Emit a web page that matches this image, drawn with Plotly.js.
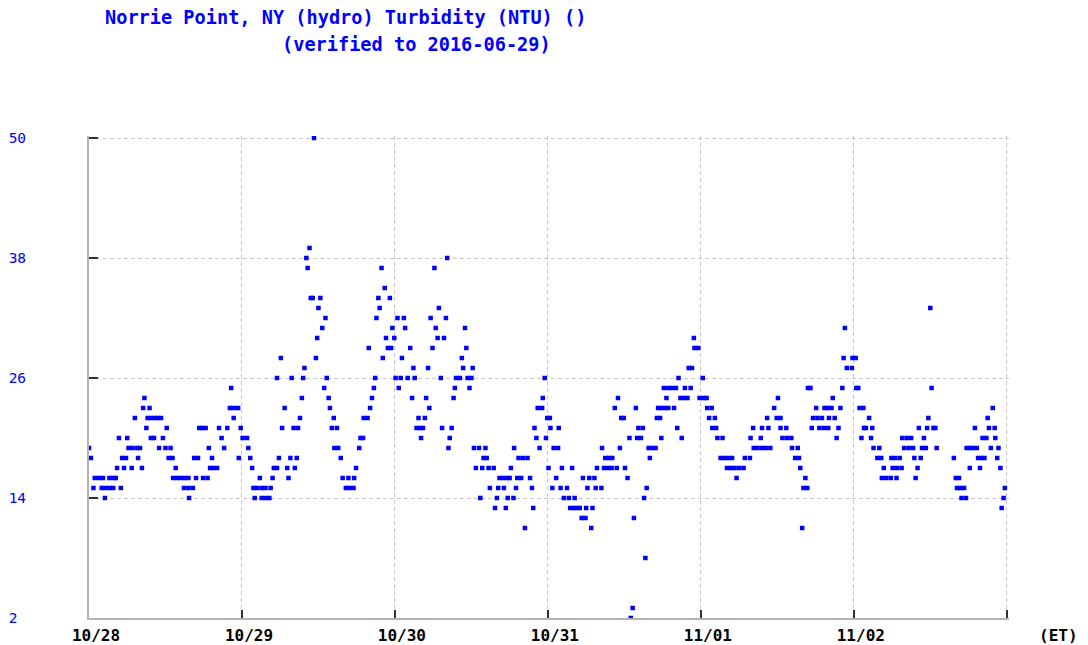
<!DOCTYPE html>
<html>
<head>
<meta charset="utf-8">
<script src="https://cdn.plot.ly/plotly-3.0.1.min.js"></script>
<style>html,body{margin:0;padding:0;background:#fff;}#chart{width:1088px;height:645px;}</style>
</head>
<body>
<div id="chart"></div>
<script>
// Turbidity readings (NTU), grouped by reading level; hours counted from 10/28 00:00 ET
const ntuLevels = [50, 39, 38, 37, 35, 34, 33, 32, 31, 30, 29, 28, 27, 26, 25, 24, 23, 22, 21, 20, 19, 18, 17, 16, 15, 14, 13, 12, 11, 8, 3, 2];
const hoursAtLevel = [
  [35.3],
  [34.6],
  [34.1, 56.2],
  [34.3, 45.9, 54.2],
  [46.4],
  [34.8, 35.1, 36.3, 45.4, 47.2],
  [36.0, 45.6, 54.9, 132.0],
  [37.1, 45.1, 48.4, 49.4, 53.6, 56.0],
  [36.6, 47.6, 49.6, 54.4, 59.0, 118.6],
  [35.8, 46.6, 47.9, 54.7, 55.7, 94.9],
  [43.9, 46.9, 47.4, 50.4, 53.9, 59.2, 95.0, 95.6],
  [30.1, 35.6, 46.1, 49.1, 58.5, 118.4, 119.8, 120.3],
  [33.8, 50.9, 53.2, 58.7, 60.2, 94.1, 94.6, 118.9, 119.7],
  [29.5, 31.8, 33.6, 37.3, 44.9, 48.1, 48.9, 50.0, 51.1, 55.2, 57.6, 58.2, 59.4, 60.0, 71.5, 92.5, 96.3],
  [22.3, 36.9, 44.7, 48.6, 57.4, 59.7, 90.2, 90.9, 91.5, 92.1, 93.5, 94.4, 112.8, 113.2, 118.2, 120.4, 120.7, 132.2],
  [8.7, 33.4, 37.6, 44.4, 50.7, 52.9, 57.2, 71.2, 83.0, 90.6, 92.8, 93.3, 93.9, 95.8, 96.4, 96.9, 108.1, 116.7],
  [8.5, 9.5, 22.1, 22.7, 23.4, 30.7, 37.8, 44.1, 53.4, 70.4, 71.1, 82.5, 85.8, 89.3, 89.8, 90.4, 90.9, 91.8, 97.0, 97.7, 107.5, 114.1, 115.4, 115.9, 116.5, 117.9, 120.9, 121.5, 141.8],
  [7.2, 9.2, 9.7, 10.3, 10.8, 11.3, 22.7, 33.1, 38.4, 43.1, 43.7, 51.7, 52.7, 71.9, 72.3, 83.5, 83.9, 89.1, 89.6, 97.3, 98.2, 106.4, 107.9, 108.5, 113.6, 114.3, 115.0, 116.1, 117.0, 122.4, 131.7, 141.0],
  [9.0, 12.2, 17.3, 17.8, 18.3, 20.4, 21.7, 23.8, 30.3, 32.1, 32.8, 38.1, 38.9, 51.4, 52.0, 52.4, 55.4, 56.9, 69.9, 72.4, 73.7, 86.2, 86.9, 92.3, 97.8, 98.4, 104.2, 105.6, 106.6, 108.5, 109.4, 113.4, 114.6, 115.3, 116.0, 117.6, 121.6, 121.9, 122.9, 130.2, 131.5, 132.5, 132.8, 139.0, 141.2, 142.1],
  [4.7, 6.0, 9.7, 10.2, 11.6, 20.8, 24.1, 24.8, 42.6, 43.0, 52.1, 56.6, 70.2, 71.7, 84.8, 86.0, 86.6, 89.8, 93.0, 98.6, 99.4, 103.8, 105.4, 108.8, 109.5, 110.2, 117.3, 121.2, 122.7, 127.6, 128.3, 129.0, 131.0, 140.2, 140.8, 142.2],
  [0.0, 6.2, 6.8, 7.5, 8.0, 11.0, 12.0, 12.8, 18.8, 21.2, 25.0, 38.5, 39.1, 42.4, 56.4, 60.4, 61.2, 62.2, 66.7, 70.7, 72.9, 73.6, 80.5, 83.3, 87.8, 88.4, 88.9, 104.3, 104.9, 105.6, 106.2, 106.9, 110.3, 111.2, 123.1, 124.0, 127.9, 128.6, 129.3, 130.7, 131.3, 133.0, 137.7, 138.2, 138.7, 139.3, 141.5, 142.7],
  [0.3, 5.2, 5.8, 7.7, 12.5, 13.1, 16.5, 17.1, 19.3, 23.5, 25.3, 29.8, 31.6, 32.6, 39.5, 61.9, 62.4, 67.4, 68.1, 68.8, 81.0, 81.6, 82.1, 88.0, 99.1, 99.7, 100.3, 100.9, 102.9, 103.7, 110.8, 111.4, 123.7, 124.3, 125.9, 126.5, 127.2, 129.5, 130.5, 135.7, 139.5, 140.0, 140.5, 142.5],
  [4.4, 5.5, 6.7, 8.3, 13.6, 19.0, 19.5, 20.1, 25.6, 29.0, 29.5, 31.1, 32.3, 41.9, 60.7, 61.7, 62.7, 63.5, 66.2, 72.1, 74.2, 75.8, 79.7, 80.8, 81.4, 82.0, 82.8, 84.1, 100.1, 100.7, 101.3, 102.0, 102.7, 111.6, 124.7, 126.1, 126.8, 127.5, 130.0, 138.2, 139.8, 143.0],
  [0.9, 1.6, 2.2, 3.2, 3.8, 4.2, 13.2, 13.8, 14.4, 15.0, 15.6, 16.8, 17.9, 18.6, 26.8, 28.8, 31.3, 39.8, 40.7, 41.6, 64.4, 65.0, 65.6, 66.0, 67.2, 67.8, 69.2, 73.3, 77.5, 78.5, 79.3, 84.5, 101.6, 112.4, 124.4, 125.1, 125.8, 126.7, 129.7, 136.0, 136.5],
  [0.7, 2.0, 2.6, 3.2, 3.8, 5.0, 14.9, 15.6, 16.3, 25.8, 26.4, 27.1, 27.7, 28.5, 40.3, 40.9, 41.5, 62.9, 64.2, 65.1, 67.0, 69.5, 72.7, 74.0, 75.0, 78.2, 79.5, 80.4, 87.5, 112.1, 112.7, 136.2, 136.7, 137.3, 143.7],
  [2.5, 15.7, 26.0, 27.1, 27.7, 28.3, 61.4, 64.0, 65.7, 66.6, 74.5, 75.3, 76.2, 87.1, 136.9, 137.6, 143.5],
  [63.7, 65.4, 69.7, 75.5, 76.0, 76.5, 77.0, 78.0, 79.0, 143.2],
  [77.3, 77.9, 85.5],
  [68.4, 78.8, 111.9],
  [87.3],
  [85.3],
  [85.0]
];
const dayTickLabels = ['10/28', '10/29', '10/30', '10/31', '11/01', '11/02', ''];
const dayTickHours = [0, 24, 48, 72, 96, 120, 144];
const yTickValues = [2, 14, 26, 38, 50];
const yTickLabels = ['2\u00a0', '14', '26', '38', '50'];
const titleLine1 = 'Norrie Point, NY (hydro) Turbidity (NTU) ()';
const titleLine2 = '(verified to 2016-06-29)';

const base = Date.UTC(2015, 9, 28, 0, 0, 0);
function toTime(h) {
  return new Date(base + Math.round(h * 3600000)).toISOString().slice(0, 19).replace('T', ' ');
}

const xs = [], ys = [];
ntuLevels.forEach((v, i) => {
  hoursAtLevel[i].forEach(h => { xs.push(toTime(h)); ys.push(v); });
});

const trace = {
  x: xs, y: ys, type: 'scatter', mode: 'markers',
  marker: { symbol: 'square', size: 4.5, color: '#0000ff', line: { width: 0 } },
  hoverinfo: 'x+y'
};

const mono = 'DejaVu Sans Mono, Liberation Mono, monospace';
const gridDash = '4px,3px';

const layout = {
  width: 1088, height: 645,
  margin: { l: 89, r: 79, t: 136, b: 27, pad: 0 },
  paper_bgcolor: '#ffffff', plot_bgcolor: '#ffffff',
  showlegend: false,
  xaxis: {
    type: 'date',
    range: [toTime(0), toTime(144.35)],
    tickmode: 'array',
    tickvals: dayTickHours.map(toTime),
    ticktext: dayTickLabels,
    ticks: 'inside', ticklen: 8, tickwidth: 2, tickcolor: '#333333',
    showline: true, linecolor: '#b4b4b4', linewidth: 2,
    showgrid: true, gridcolor: '#c8c8c8', gridwidth: 1, griddash: gridDash,
    zeroline: false,
    tickfont: { family: mono, size: 16, color: '#000000', weight: 'bold' },
    ticklabelstandoff: 2,
    ticklabelshift: 7
  },
  yaxis: {
    range: [2, 50.2],
    tickmode: 'array',
    tickvals: yTickValues,
    ticktext: yTickLabels,
    ticks: 'inside', ticklen: 9, tickwidth: 2, tickcolor: '#333333',
    showline: true, linecolor: '#b4b4b4', linewidth: 2,
    showgrid: true, gridcolor: '#c8c8c8', gridwidth: 1, griddash: gridDash,
    zeroline: false,
    tickfont: { family: mono, size: 14.5, color: '#0000ff' },
    ticklabelstandoff: 58
  },
  annotations: [
    { text: titleLine1, xref: 'paper', yref: 'paper', x: (103 - 89) / 920, y: (618 - 18) / 482,
      xanchor: 'left', yanchor: 'middle', showarrow: false,
      font: { family: mono, size: 18.6, color: '#0000ff', weight: 'bold' } },
    { text: titleLine2, xref: 'paper', yref: 'paper', x: (280 - 89) / 920, y: (618 - 44) / 482,
      xanchor: 'left', yanchor: 'middle', showarrow: false,
      font: { family: mono, size: 18.6, color: '#0000ff', weight: 'bold' } },
    { text: '(ET)', xref: 'paper', yref: 'paper', x: (1037 - 89) / 920, y: (618 - 635) / 482,
      xanchor: 'left', yanchor: 'middle', showarrow: false,
      font: { family: mono, size: 16, color: '#000000', weight: 'bold' } }
  ]
};

Plotly.newPlot('chart', [trace], layout, { displayModeBar: false, staticPlot: true });
</script>
</body>
</html>
